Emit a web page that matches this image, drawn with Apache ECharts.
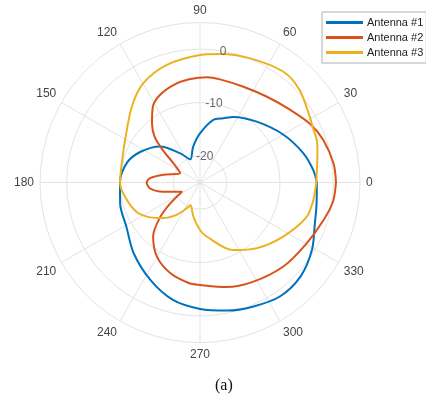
<!DOCTYPE html>
<html>
<head>
<meta charset="utf-8">
<script src="https://cdn.jsdelivr.net/npm/echarts@6/dist/echarts.min.js"></script>
<style>html,body{margin:0;padding:0;background:#fff;}#c{width:426px;height:398px;}</style>
</head>
<body>
<div id="c"></div>
<script>
// Series names
var seriesNames = ['Antenna #1', 'Antenna #2', 'Antenna #3'];
// Antenna #1 (angle deg, gain dB)
var ant1Angles = [0, 6, 16, 30, 47, 63, 70, 78, 90, 101, 113, 124, 138, 153, 165, 180, 195, 211, 227, 243, 257, 270, 282, 293, 305, 317, 329, 340, 350, 360];
var ant1Values = [-3.1, -3.6, -4.9, -7.0, -9.4, -11.2, -12.2, -13.0, -15.8, -18.2, -20.3, -18.4, -14.9, -12.4, -10.8, -10.0, -9.5, -8.9, -6.8, -4.5, -2.4, -1.3, -0.45, 0.3, 1.1, 0.8, -0.5, -2.1, -2.8, -3.1];
// Antenna #2
var ant2Angles = [0, 8, 19, 28, 39, 52, 66, 79, 86, 96, 105, 115, 122, 129, 135, 139, 144, 155, 168, 175, 180, 187, 194, 207, 215, 221, 229, 240, 252, 264, 270, 284, 298, 315, 330, 343, 352, 360];
var ant2Values = [0.5, 0.3, -0.55, -1.6, -3.3, -4.6, -5.3, -5.3, -5.2, -5.55, -6.05, -7.0, -8.3, -10.7, -13.0, -15.8, -18.8, -20.9, -18.0, -15.6, -15.0, -15.6, -17.9, -21.2, -18.2, -15.1, -11.6, -8.9, -7.1, -6.0, -5.8, -4.8, -3.9, -2.8, -2.0, -0.8, 0.2, 0.5];
// Antenna #3
var ant3Angles = [0, 15, 20, 27, 31, 43, 53, 68, 81, 90, 106, 120, 132, 150, 166, 180, 191, 205, 215, 224, 234, 243, 247, 259, 270, 277, 296, 311, 327, 342, 351, 360];
var ant3Values = [-3.2, -2.2, -1.7, -1.4, -1.0, 0.5, 1.0, 0.1, -0.6, -1.1, -2.1, -3.6, -5.9, -8.8, -9.9, -10.0, -10.7, -11.9, -13.6, -15.4, -17.5, -19.6, -20.4, -18.5, -16.1, -14.8, -10.9, -8.7, -6.4, -4.0, -3.5, -3.2];
// Radial tick labels (dB) and their angle position
var rTickLabels = [-20, -10, 0];
var rLabelAngle = 80;
var rMin = -25, rMax = 5;
var caption = '(a)';

var colors = ['#0072BD', '#D95319', '#EDB120'];
function pairs(a, v) { return a.map(function (ang, i) { return [v[i], ang]; }); }
var allAngles = [ant1Angles, ant2Angles, ant3Angles];
var allValues = [ant1Values, ant2Values, ant3Values];

var series = seriesNames.map(function (n, i) {
  return {
    name: n, type: 'line', coordinateSystem: 'polar',
    data: pairs(allAngles[i], allValues[i]),
    showSymbol: false, smooth: 0.3,
    lineStyle: { width: 2, color: colors[i] },
    itemStyle: { color: colors[i] },
    z: 3 + i
  };
});
series.push({
  type: 'scatter', coordinateSystem: 'polar', symbolSize: 0, silent: true,
  data: rTickLabels.map(function (v) { return [v, rLabelAngle]; }),
  label: { show: true, position: 'inside', formatter: function (p) { return String(p.value[0]); },
    color: '#444', fontSize: 12, fontFamily: 'Liberation Sans, Arial, sans-serif' },
  z: 10
});

var chart = echarts.init(document.getElementById('c'), null, { renderer: 'canvas' });
chart.setOption({
  animation: false,
  backgroundColor: '#fff',
  color: colors,
  title: { text: caption, left: 210, top: 373,
    textStyle: { fontFamily: 'Liberation Serif, Times New Roman, serif', fontSize: 16, fontWeight: 'normal', color: '#111' } },
  legend: {
    data: seriesNames, orient: 'vertical', left: 322, top: 12,
    icon: 'rect', itemWidth: 37, itemHeight: 3, itemGap: 2,
    padding: [4, 3, 4, 4], borderColor: '#b0b0b0', borderWidth: 1, backgroundColor: '#fff',
    textStyle: { fontSize: 11, color: '#222', fontFamily: 'Liberation Sans, Arial, sans-serif', lineHeight: 13, padding: [0, 0, 0, -1] }
  },
  polar: { center: [200, 182.5], radius: 160 },
  angleAxis: {
    type: 'value', min: 0, max: 360, interval: 30, startAngle: 0, clockwise: false,
    axisLine: { show: true, lineStyle: { color: '#e3e3e3', width: 1 } },
    axisTick: { show: false },
    splitLine: { show: true, lineStyle: { color: '#e3e3e3', width: 1 } },
    axisLabel: { margin: 6, color: '#444', fontSize: 12, fontFamily: 'Liberation Sans, Arial, sans-serif',
      formatter: function (v) { return v === 360 ? '' : String(v); } }
  },
  radiusAxis: {
    type: 'value', min: rMin, max: rMax, interval: 5,
    axisLine: { show: false }, axisTick: { show: false }, axisLabel: { show: false },
    splitLine: { show: true, lineStyle: { color: ['rgba(0,0,0,0)', '#e3e3e3'], width: 1 } }
  },
  series: series
});
</script>
</body>
</html>
